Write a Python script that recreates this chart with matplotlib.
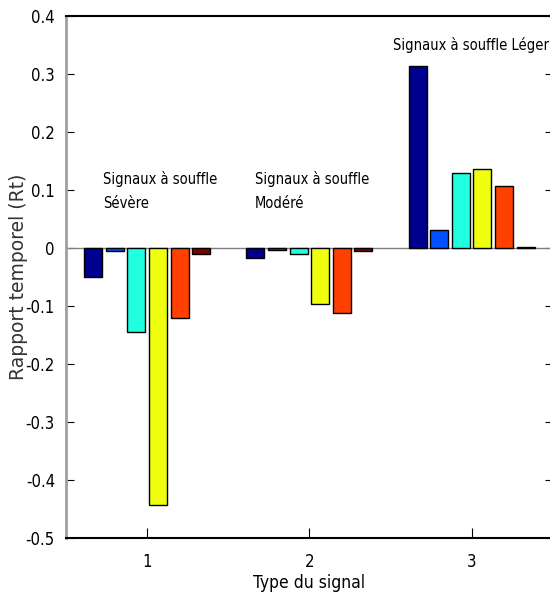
import numpy as np
import matplotlib
matplotlib.use('Agg')
import matplotlib.pyplot as plt

# Rt values per signal type (rows) and per parameter (columns)
groups = [1, 2, 3]
severe = [-0.050, -0.005, -0.145, -0.443, -0.120, -0.011]
modere = [-0.017, -0.003, -0.010, -0.097, -0.112, -0.005]
leger = [0.314, 0.031, 0.129, 0.136, 0.106, 0.001]
colors = ['#00008F', '#0050FF', '#20FFDF', '#EFFF10', '#FF4000', '#800000']
annotations = ['Signaux à souffle\nSévère', 'Signaux à souffle\nModéré', 'Signaux à souffle Léger']

narrow = ['Liberation Sans Narrow', 'DejaVu Sans', 'Liberation Sans']
plt.rcParams['font.family'] = ['DejaVu Sans', 'Liberation Sans']

data = np.array([severe, modere, leger])
nser = data.shape[1]

fig = plt.figure(figsize=(5.5, 6.05), dpi=100)
ax = fig.add_axes([0.12, 0.1107, 0.885, 0.863])

step = 0.8 / nser
width = step * 0.83
for j in range(nser):
    xs = np.array(groups) + (j - (nser - 1) / 2) * step
    ax.bar(xs, data[:, j], width=width, color=colors[j], edgecolor='black',
           linewidth=1, zorder=3)

ax.axhline(0, color='#808080', linewidth=1, zorder=2)

ax.set_xlim(0.5, 3.5)
ax.set_ylim(-0.5, 0.4)
ax.set_xticks(groups)
ax.set_yticks(np.arange(-0.5, 0.41, 0.1))
ax.set_yticklabels(['-0.5', '-0.4', '-0.3', '-0.2', '-0.1', '0', '0.1', '0.2', '0.3', '0.4'])
ax.tick_params(axis='y', direction='in', left=True, right=True, labelsize=12, length=6, pad=8)
ax.tick_params(axis='x', direction='in', bottom=True, top=False, labelsize=12, length=7, pad=11)
for lbl in ax.get_xticklabels() + ax.get_yticklabels():
    lbl.set_family(narrow)
    lbl.set_stretch('condensed')

ax.spines['left'].set_color('#A0A0A0')
ax.spines['left'].set_linewidth(2)
ax.spines['top'].set_linewidth(1.5)
ax.spines['bottom'].set_linewidth(1.5)
ax.spines['right'].set_visible(False)

ax.set_ylabel('Rapport temporel (Rt)', fontsize=13.5, color='#333333')
ax.yaxis.set_label_coords(-0.078, 0.5)
ax.set_xlabel('Type du signal', fontsize=12.5, family=narrow, stretch='condensed', labelpad=2)

txt_kw = dict(fontsize=10.5, family=narrow, stretch='condensed', va='top')
ax.text(0.728, 0.132, annotations[0], linespacing=1.75, **txt_kw)
ax.text(1.665, 0.132, annotations[1], linespacing=1.75, **txt_kw)
ax.text(2.515, 0.364, annotations[2], **txt_kw)

plt.savefig('out.png', dpi=100)
